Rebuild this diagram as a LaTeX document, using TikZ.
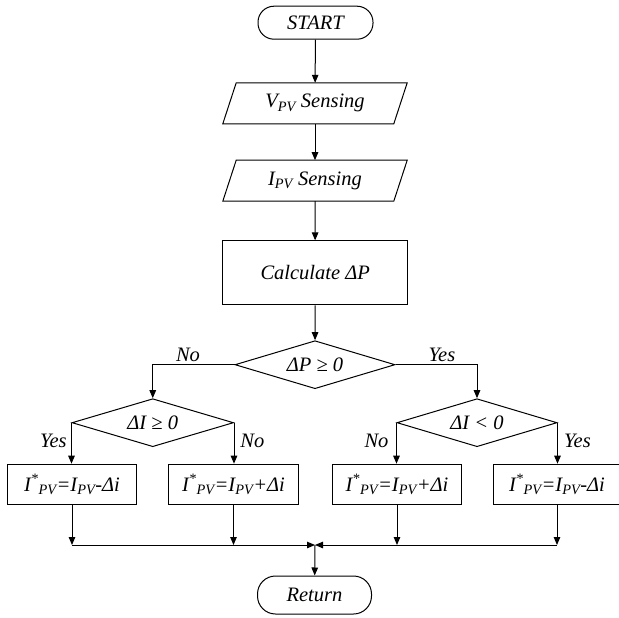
\documentclass[tikz,border=0pt]{standalone}
\usepackage{fontspec}
\setmainfont{Liberation Serif}
\newfontfamily\tnr{Liberation Serif}
\usetikzlibrary{arrows.meta,shapes.geometric}
\begin{document}
\begin{tikzpicture}[x=1pt,y=-1pt,
  font=\tnr\fontsize{20.5}{24}\selectfont\itshape,
  line width=1pt,
  arr/.style={-{Triangle[length=8pt,width=6.5pt]}},
  term/.style={draw, inner sep=0pt},
  proc/.style={draw, minimum height=40pt, inner sep=0pt},
  dec/.style={draw, diamond, aspect=3.33, minimum height=48pt, inner sep=0pt},
  io/.style={minimum width=170pt, minimum height=40pt, inner sep=0pt},
  lbl/.style={anchor=base, inner sep=0pt}
]
\useasboundingbox (0,0) rectangle (619,618);
% terminals
\node[term, rounded corners=16pt, minimum width=115pt, minimum height=33pt] (start) at (315.5,22.7) {START};
\node[term, rounded corners=18pt, minimum width=114pt, minimum height=38pt] (ret) at (314.5,595) {Return};
% input/output
\node[io] (vpv) at (315,103.3) {V\textsubscript{PV} Sensing};
\draw ([xshift=6.7pt]vpv.north west) -- ([xshift=6.7pt]vpv.north east) -- ([xshift=-6.7pt]vpv.south east) -- ([xshift=-6.7pt]vpv.south west) -- cycle;
\node[io] (ipv) at (315,180.7) {I\textsubscript{PV} Sensing};
\draw ([xshift=6.7pt]ipv.north west) -- ([xshift=6.7pt]ipv.north east) -- ([xshift=-6.7pt]ipv.south east) -- ([xshift=-6.7pt]ipv.south west) -- cycle;
% process
\node[proc, minimum width=185pt, minimum height=64pt] (calc) at (315.2,272.9) {Calculate ΔP};
% decisions
\node[dec, minimum width=160pt] (d1) at (315,364.7) {ΔP ≥ 0};
\node[dec, minimum width=161.5pt] (d2) at (152.75,422.7) {ΔI ≥ 0};
\node[dec, minimum width=160pt] (d3) at (477,422.7) {ΔI < 0};
% boxes
\node[proc, minimum width=129.4pt] (b1) at (72,484.2) {I\textsuperscript{*}\textsubscript{PV}=I\textsubscript{PV}-Δi};
\node[proc, minimum width=130pt] (b2) at (233.5,484.2) {I\textsuperscript{*}\textsubscript{PV}=I\textsubscript{PV}+Δi};
\node[proc, minimum width=129pt] (b3) at (397,484.2) {I\textsuperscript{*}\textsubscript{PV}=I\textsubscript{PV}+Δi};
\node[proc, minimum width=128pt] (b4) at (557,484.2) {I\textsuperscript{*}\textsubscript{PV}=I\textsubscript{PV}-Δi};
\coordinate (j) at (315,545);
% connectors
\draw[arr] (start) -- (vpv);
\draw[arr] (vpv) -- (ipv);
\draw[arr] (ipv) -- (calc);
\draw[arr] (calc) -- (d1);
\draw[arr] (d1.west) -| (d2.north);
\draw[arr] (d1.east) -| (d3.north);
\draw[arr] (d2.west) -- (d2.west |- b1.north);
\draw[arr] (d2.east) -- (d2.east |- b2.north);
\draw[arr] (d3.west) -- (d3.west |- b3.north);
\draw[arr] (d3.east) -- (d3.east |- b4.north);
\draw[arr] (b1.south) -- (b1.south |- j);
\draw[arr] (b2.south) -- (b2.south |- j);
\draw[arr] (b3.south) -- (b3.south |- j);
\draw[arr] (b4.south) -- (b4.south |- j);
\draw[arr] (b1.south |- j) -- (j);
\draw[arr] (b4.south |- j) -- (j);
\draw[arr] (j) -- (ret);
% labels
\node[lbl] (no0) at (188,361.5) {No};
\node[lbl] (yes0) at (442,361.5) {Yes};
\node[lbl] (yes1) at (53.3,447) {Yes};
\node[lbl] (no1) at (252.3,447) {No};
\node[lbl] (no2) at (376.5,447) {No};
\node[lbl] (yes2) at (577.5,447) {Yes};
\end{tikzpicture}
\end{document}
